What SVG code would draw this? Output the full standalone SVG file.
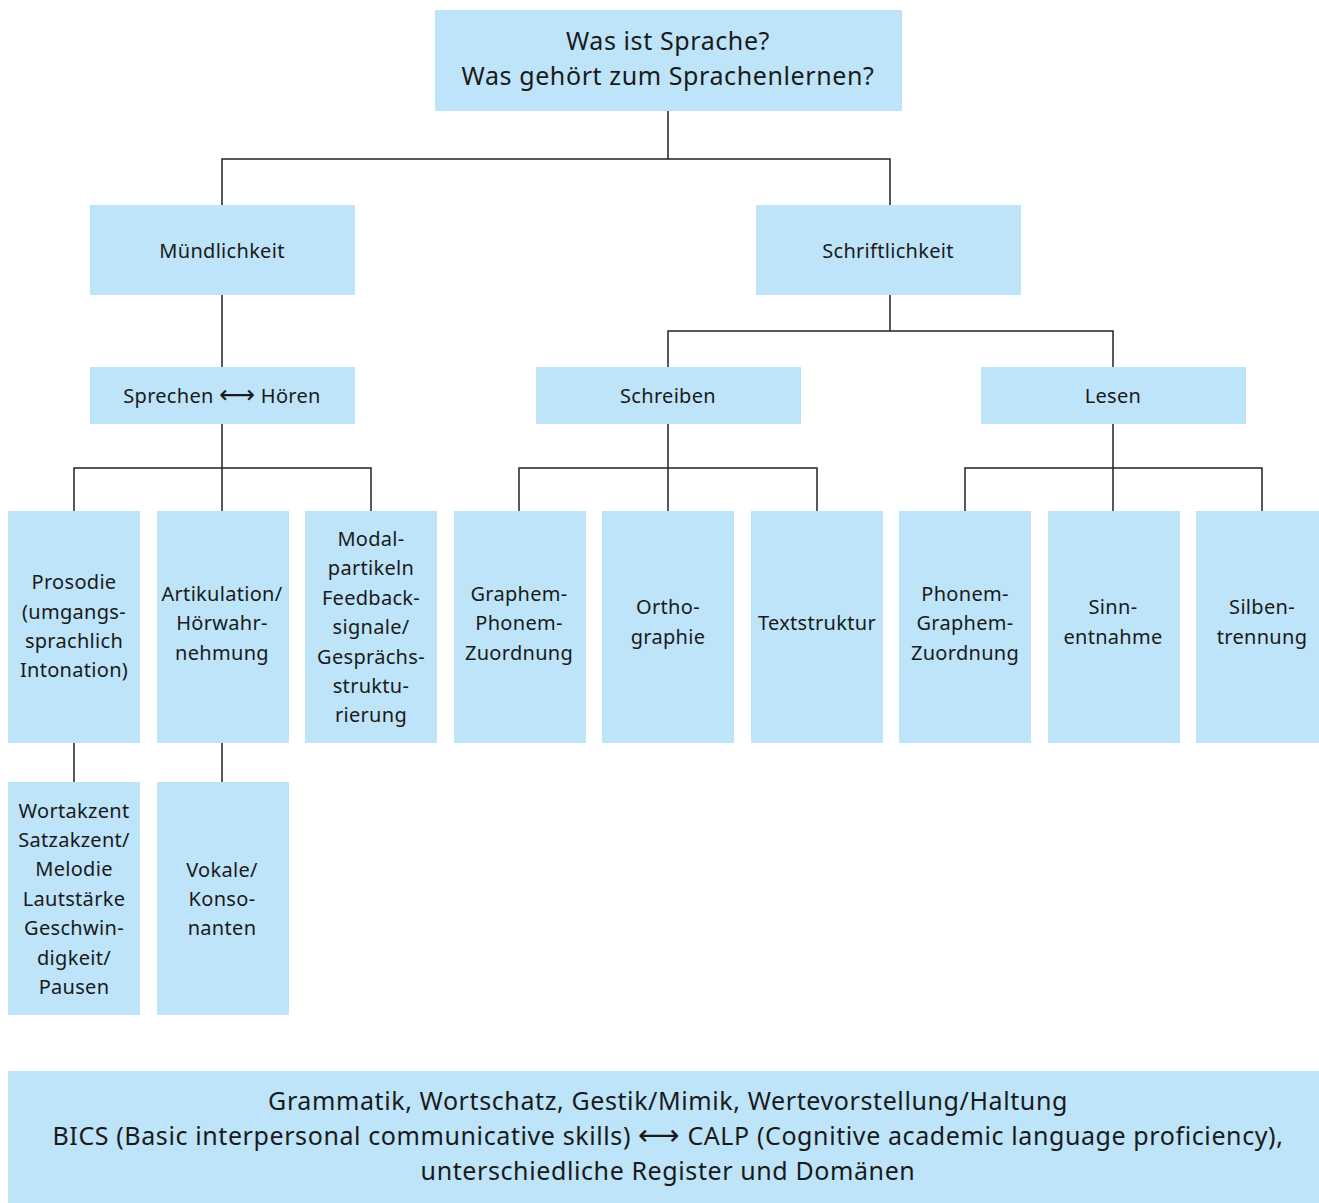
<svg xmlns="http://www.w3.org/2000/svg" width="1319" height="1203" viewBox="0 0 1319 1203">
<style>
.box{fill:#bde4f9}
.t{font-family:"Noto Sans","DejaVu Sans",sans-serif;font-size:20px;letter-spacing:0.3px;fill:#1a1a1a;text-anchor:middle;font-variant-ligatures:none}
.big{font-size:25px;letter-spacing:0.6px}
.c{fill:none;stroke:#222;stroke-width:1.5}
</style>
<rect width="1319" height="1203" fill="#fff"/>
<g id="connectors">
<path class="c" d="M668 111V159M222 205V159H890V205"/>
<path class="c" d="M222 295V367"/>
<path class="c" d="M890 295V331M668 367V331H1113V367"/>
<path class="c" d="M222 424V511M74 511V468H371V511"/>
<path class="c" d="M668 424V511M519 511V468H817V511"/>
<path class="c" d="M1113 424V511M965 511V468H1262V511"/>
<path class="c" d="M74 743V782M222 743V782"/>
</g>
<g id="n-root"><rect class="box" x="435" y="10" width="467" height="101"/>
<text class="t big" x="668" y="50">Was ist Sprache?</text>
<text class="t big" x="668" y="85">Was gehört zum Sprachenlernen?</text></g>
<g id="n-muendlich"><rect class="box" x="90" y="205" width="265" height="90"/>
<text class="t" x="222" y="258">Mündlichkeit</text></g>
<g id="n-schriftlich"><rect class="box" x="756" y="205" width="265" height="90"/>
<text class="t" x="888" y="258">Schriftlichkeit</text></g>
<g id="n-sprechen"><rect class="box" x="90" y="367" width="265" height="57"/>
<text class="t" x="222" y="403">Sprechen <tspan style="font-size:25px">⟷</tspan> Hören</text></g>
<g id="n-schreiben"><rect class="box" x="536" y="367" width="265" height="57"/>
<text class="t" x="668" y="403">Schreiben</text></g>
<g id="n-lesen"><rect class="box" x="981" y="367" width="265" height="57"/>
<text class="t" x="1113" y="403">Lesen</text></g>
<g id="n-prosodie"><rect class="box" x="8" y="511" width="132" height="232"/>
<text class="t" x="74" y="589">Prosodie</text><text class="t" x="74" y="619">(umgangs-</text><text class="t" x="74" y="648">sprachlich</text><text class="t" x="74" y="677">Intonation)</text></g>
<g id="n-artikulation"><rect class="box" x="157" y="511" width="132" height="232"/>
<text class="t" x="222" y="601">Artikulation/</text><text class="t" x="222" y="630">Hörwahr-</text><text class="t" x="222" y="660">nehmung</text></g>
<g id="n-modal"><rect class="box" x="305" y="511" width="132" height="232"/>
<text class="t" x="371" y="546">Modal-</text><text class="t" x="371" y="575">partikeln</text><text class="t" x="371" y="605">Feedback-</text><text class="t" x="371" y="634">signale/</text><text class="t" x="371" y="664">Gesprächs-</text><text class="t" x="371" y="693">struktu-</text><text class="t" x="371" y="722">rierung</text></g>
<g id="n-gpz"><rect class="box" x="454" y="511" width="132" height="232"/>
<text class="t" x="519" y="601">Graphem-</text><text class="t" x="519" y="630">Phonem-</text><text class="t" x="519" y="660">Zuordnung</text></g>
<g id="n-ortho"><rect class="box" x="602" y="511" width="132" height="232"/>
<text class="t" x="668" y="614">Ortho-</text><text class="t" x="668" y="644">graphie</text></g>
<g id="n-text"><rect class="box" x="751" y="511" width="132" height="232"/>
<text class="t" x="817" y="630">Textstruktur</text></g>
<g id="n-pgz"><rect class="box" x="899" y="511" width="132" height="232"/>
<text class="t" x="965" y="601">Phonem-</text><text class="t" x="965" y="630">Graphem-</text><text class="t" x="965" y="660">Zuordnung</text></g>
<g id="n-sinn"><rect class="box" x="1048" y="511" width="132" height="232"/>
<text class="t" x="1113" y="614">Sinn-</text><text class="t" x="1113" y="644">entnahme</text></g>
<g id="n-silben"><rect class="box" x="1196" y="511" width="123" height="232"/>
<text class="t" x="1262" y="614">Silben-</text><text class="t" x="1262" y="644">trennung</text></g>
<g id="n-wortakzent"><rect class="box" x="8" y="782" width="132" height="233"/>
<text class="t" x="74" y="818">Wortakzent</text><text class="t" x="74" y="847">Satzakzent/</text><text class="t" x="74" y="876">Melodie</text><text class="t" x="74" y="906">Lautstärke</text><text class="t" x="74" y="935">Geschwin-</text><text class="t" x="74" y="965">digkeit/</text><text class="t" x="74" y="994">Pausen</text></g>
<g id="n-vokale"><rect class="box" x="157" y="782" width="132" height="233"/>
<text class="t" x="222" y="877">Vokale/</text><text class="t" x="222" y="906">Konso-</text><text class="t" x="222" y="935">nanten</text></g>
<g id="n-bottom"><rect class="box" x="8" y="1071" width="1311" height="132"/>
<text class="t big" x="668" y="1110">Grammatik, Wortschatz, Gestik/Mimik, Wertevorstellung/Haltung</text>
<text class="t big" x="668" y="1145">BICS (Basic interpersonal communicative skills) <tspan style="font-size:29px">⟷</tspan> CALP (Cognitive academic language proficiency),</text>
<text class="t big" x="668" y="1180">unterschiedliche Register und Domänen</text></g>
</svg>
